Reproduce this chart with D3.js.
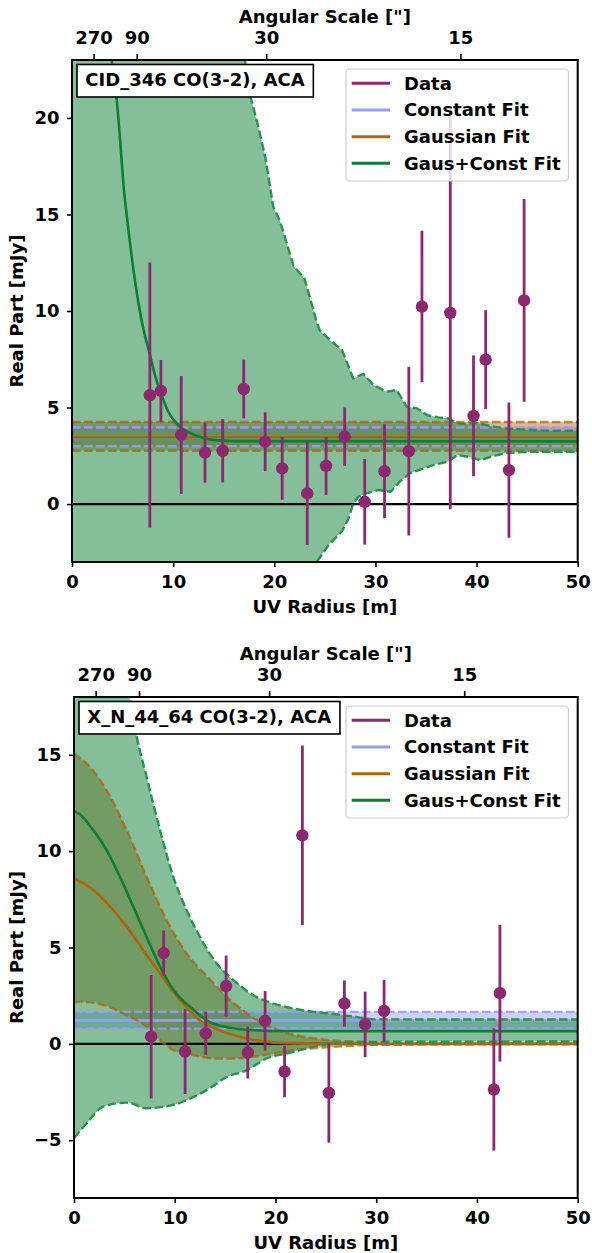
<!DOCTYPE html>
<html>
<head>
<meta charset="utf-8">
<script src="https://cdn.jsdelivr.net/npm/d3@7"></script>
<style>
  body { margin: 0; background: #fff; }
  svg text { font-family: "DejaVu Sans", sans-serif; font-weight: bold; }
</style>
</head>
<body>
<div id="chart"></div>
<script>
// ---------- shared axis values ----------
var xTicks = [0, 10, 20, 30, 40, 50];
var angularTicks = [270, 90, 30, 15];
var legendLabels = ["Data", "Constant Fit", "Gaussian Fit", "Gaus+Const Fit"];

// ---------- CID_346 (top panel) ----------
var cidRadius = [7.70, 8.79, 10.8, 13.15, 14.9, 16.98, 19.1, 20.78, 23.26, 25.12, 26.96, 28.94, 30.9, 33.3, 34.6, 37.4, 39.7, 40.9, 43.2, 44.7];
var cidReal   = [5.64, 5.86, 3.58, 2.66, 2.76, 5.96, 3.23, 1.85, 0.55, 1.98, 3.49, 0.12, 1.70, 2.74, 10.23, 9.9, 4.57, 7.48, 1.76, 10.55];
var cidErr    = [6.87, 1.6, 3.05, 1.55, 1.64, 1.52, 1.52, 1.63, 2.67, 1.5, 1.51, 2.22, 2.43, 4.37, 3.92, 10.17, 3.13, 2.56, 3.5, 5.25];

var cidConst = [3.0, 3.49, 3.97];   // lo, fit, hi
var cidGaus  = [2.76, 3.49, 4.25];  // lo, fit, hi (flat over the range)

var cidGcMidR = [2.5, 3.2, 3.92, 4.42, 4.75, 5.07, 5.57, 6.06, 6.56, 7.05, 7.55, 8.21, 8.87, 9.53, 10.36, 11.18, 12.17, 13.16, 14.5, 16, 50];
var cidGcMid  = [36, 28, 23.0, 20.97, 18.9, 16.66, 14.25, 12.18, 10.45, 9.08, 8.05, 6.67, 5.63, 4.77, 4.17, 3.82, 3.57, 3.40, 3.3, 3.26, 3.25];
var cidGcHiR  = [0, 10, 15, 17.1, 17.6, 18.3, 19.1, 19.9, 20.6, 21.9, 23.0, 24.2, 24.5, 25.5, 26.7, 27.8, 28.8, 29.8, 31.1, 32.1, 33.1, 34.1, 35.1, 36.2, 37.2, 38.1, 39.0, 40.0, 41.4, 42.7, 44.3, 47.0, 50];
var cidGcHi   = [70, 40, 28, 23.0, 21.2, 19.8, 18.0, 15.4, 14.6, 12.35, 11.66, 9.42, 9.0, 8.5, 7.98, 6.51, 6.74, 6.17, 5.82, 5.91, 5.04, 4.96, 4.61, 4.49, 4.44, 4.18, 4.15, 4.21, 4.04, 3.92, 3.87, 3.8, 3.8];
var cidGcLoR  = [0, 10, 20, 24.2, 25.4, 26.7, 27.3, 27.8, 28.3, 29.1, 30.3, 31.5, 32.4, 33.4, 34.8, 35.7, 37.1, 38.1, 39.2, 40.4, 41.4, 43.0, 45.6, 50];
var cidGcLo   = [-40, -25, -8, -3.0, -2.1, -1.4, -0.8, 0.0, 0.38, 0.55, 0.73, 0.64, 1.16, 1.59, 1.85, 2.02, 2.19, 2.54, 2.45, 2.28, 2.45, 2.66, 2.71, 2.71];

// ---------- X_N_44_64 (bottom panel) ----------
var xnRadius = [7.66, 8.9, 11.03, 13.08, 15.1, 17.25, 18.97, 20.9, 22.67, 25.3, 26.84, 28.9, 30.78, 41.68, 42.28];
var xnReal   = [0.37, 4.71, -0.40, 0.55, 3.0, -0.45, 1.19, -1.44, 10.82, -2.55, 2.09, 1.01, 1.71, -2.37, 2.63];
var xnErr    = [3.2, 1.17, 2.2, 1.12, 1.58, 1.35, 1.55, 1.33, 4.66, 2.58, 1.2, 1.7, 1.6, 3.17, 3.55];

var xnConst = [0.79, 1.22, 1.66];   // lo, fit, hi

var xnGaMidR = [0, 1.92, 3.6, 5.23, 6.88, 8.54, 9.9, 12.5, 14.5, 16.5, 18.6, 21.2, 25, 50];
var xnGaMid  = [8.58, 7.98, 7.11, 6.07, 4.86, 3.65, 2.68, 1.21, 0.69, 0.35, 0.14, 0.03, 0, 0];
var xnGaHiR  = [0, 1.59, 3.24, 5.23, 7.21, 9.2, 11.18, 13.3, 15.9, 18.2, 20.8, 24.5, 28.3, 32, 50];
var xnGaHi   = [15.07, 14.37, 13.16, 11.09, 8.67, 6.42, 4.69, 3.45, 2.1, 1.22, 0.62, 0.24, 0.1, 0.03, 0.02];
var xnGaLoR  = [0, 0.6, 2.9, 5.2, 7.2, 8.5, 9.9, 11.9, 13.9, 15.8, 17.8, 19.8, 22.4, 25.4, 30, 50];
var xnGaLo   = [2.14, 2.19, 2.02, 1.5, 0.9, 0.21, -0.33, -0.59, -0.76, -0.76, -0.67, -0.5, -0.3, -0.17, -0.05, -0.02];

var xnGcMidR = [0, 0.6, 1.92, 3.24, 4.56, 5.89, 7.21, 8.54, 9.9, 11.9, 13.2, 15.2, 17.5, 19.9, 25, 50];
var xnGcMid  = [12.08, 11.9, 11.09, 10.05, 8.67, 7.11, 5.55, 4.0, 2.78, 1.74, 1.21, 0.86, 0.72, 0.67, 0.66, 0.66];
var xnGcHiR  = [0, 3, 5.5, 6.2, 7.21, 8.54, 9.86, 11.18, 12.5, 14.16, 15.82, 17.8, 19.8, 21.8, 23.8, 25.5, 28, 30, 50];
var xnGcHi   = [26, 22, 18, 16.0, 13.85, 11.09, 8.67, 6.94, 5.55, 4.17, 3.31, 2.52, 2.09, 1.83, 1.66, 1.57, 1.4, 1.27, 1.26];
var xnGcLoR  = [0, 1.26, 2.9, 5.2, 5.7, 7.05, 9.86, 11.2, 13.2, 15.2, 17.2, 19.1, 21.1, 23.1, 25.1, 28, 50];
var xnGcLo   = [-4.9, -4.12, -3.26, -3.05, -3.08, -3.34, -3.17, -2.91, -2.39, -1.71, -1.36, -0.76, -0.5, -0.24, -0.02, 0.1, 0.12];

// colours
var dataColor = "#8c286e";
var constColor = "#9a9aff";
var gausColor = "#b06408";
var gcColor = "#0a7f35";

var svg = d3.select("#chart").append("svg")
    .attr("width", 592)
    .attr("height", 1253);

function pairs(rs, vs) {
    return rs.map(function(r, i) { return [r, vs[i]]; });
}
function flat(v) {
    return [[0, v], [50, v]];
}

function drawPanel(p) {
    var x = d3.scaleLinear().domain([0, 50]).range([p.left, p.right]);
    var y = d3.scaleLinear().domain(p.yDomain).range([p.bottom, p.top]);

    var clipId = "clip-" + p.id;
    svg.append("clipPath").attr("id", clipId)
        .append("rect")
        .attr("x", p.left).attr("y", p.top)
        .attr("width", p.right - p.left).attr("height", p.bottom - p.top);

    var plot = svg.append("g").attr("clip-path", "url(#" + clipId + ")");

    var line = d3.line()
        .x(function(d) { return x(d[0]); })
        .y(function(d) { return y(d[1]); })
        .curve(d3.curveMonotoneX);
    var lineLin = d3.line()
        .x(function(d) { return x(d[0]); })
        .y(function(d) { return y(d[1]); });

    function band(lo, hi, gen) {
        return gen(hi) + gen(lo.slice().reverse()).replace(/^M/, "L") + "Z";
    }

    // fills first (constant, gaussian, gaus+const), like matplotlib's zorder
    p.fits.forEach(function(f) {
        plot.append("path")
            .attr("d", band(f.lo, f.hi, f.jagged ? lineLin : line))
            .attr("fill", f.color)
            .attr("fill-opacity", f.fillOpacity)
            .attr("stroke", "none");
    });

    // zero line
    plot.append("line")
        .attr("x1", p.left).attr("x2", p.right)
        .attr("y1", y(0)).attr("y2", y(0))
        .attr("stroke", "#000").attr("stroke-width", 2.2);

    // fit lines and dashed envelopes, fit by fit
    p.fits.forEach(function(f) {
        plot.append("path")
            .attr("d", line(f.mid))
            .attr("fill", "none")
            .attr("stroke", f.color)
            .attr("stroke-width", 2.6);
        [f.lo, f.hi].forEach(function(edge) {
            plot.append("path")
                .attr("d", (f.jagged ? lineLin : line)(edge))
                .attr("fill", "none")
                .attr("stroke", f.dashColor)
                .attr("stroke-opacity", f.dashOpacity)
                .attr("stroke-width", 2.4)
                .attr("stroke-dasharray", "8.5,3.5");
        });
    });

    // data with error bars
    var pts = p.radius.map(function(r, i) { return { r: r, v: p.real[i], e: p.err[i] }; });
    plot.selectAll(".eb").data(pts).enter().append("line")
        .attr("x1", function(d) { return x(d.r); })
        .attr("x2", function(d) { return x(d.r); })
        .attr("y1", function(d) { return y(d.v - d.e); })
        .attr("y2", function(d) { return y(d.v + d.e); })
        .attr("stroke", dataColor)
        .attr("stroke-width", 2.8);
    plot.selectAll(".pt").data(pts).enter().append("circle")
        .attr("cx", function(d) { return x(d.r); })
        .attr("cy", function(d) { return y(d.v); })
        .attr("r", 6.2)
        .attr("fill", dataColor);

    // axes
    var bottomAxis = svg.append("g")
        .attr("transform", "translate(0," + p.bottom + ")")
        .call(d3.axisBottom(x).tickValues(xTicks).tickSize(5).tickPadding(8.5));
    var leftAxis = svg.append("g")
        .attr("transform", "translate(" + p.left + ",0)")
        .call(d3.axisLeft(y).tickValues(p.yTicks).tickSize(5).tickPadding(7.5));
    var topAxis = svg.append("g")
        .attr("transform", "translate(0," + p.top + ")")
        .call(d3.axisTop(x)
            .tickValues(angularTicks.map(function(a) { return p.angK / a; }))
            .tickFormat(function(d, i) { return angularTicks[i]; })
            .tickSize(6).tickPadding(10.5));

    [bottomAxis, leftAxis, topAxis].forEach(function(ax) {
        ax.select(".domain").remove();
        ax.selectAll(".tick line").attr("stroke", "#000").attr("stroke-width", 1.6);
        ax.selectAll(".tick text")
            .attr("fill", "#000")
            .style("font-size", "18px")
            .style("font-family", "'DejaVu Sans', sans-serif")
            .style("font-weight", "bold");
    });

    // frame
    svg.append("rect")
        .attr("x", p.left).attr("y", p.top)
        .attr("width", p.right - p.left).attr("height", p.bottom - p.top)
        .attr("fill", "none").attr("stroke", "#000").attr("stroke-width", 2);

    // axis titles
    var cx = (p.left + p.right) / 2;
    svg.append("text")
        .attr("x", cx).attr("y", p.top - 37)
        .attr("text-anchor", "middle")
        .style("font-size", "18px")
        .text("Angular Scale [\"]");
    svg.append("text")
        .attr("x", cx).attr("y", p.bottom + 50.5)
        .attr("text-anchor", "middle")
        .style("font-size", "18px")
        .text("UV Radius [m]");
    svg.append("text")
        .attr("transform", "translate(23," + ((p.top + p.bottom) / 2) + ") rotate(-90)")
        .attr("text-anchor", "middle")
        .style("font-size", "18px")
        .text("Real Part [mJy]");

    // title box
    var tg = svg.append("g");
    var tRect = tg.append("rect");
    var tText = tg.append("text")
        .attr("x", p.left + 13.3)
        .attr("y", p.top + 26)
        .style("font-size", "18px")
        .text(p.title);
    var tw = tText.node().getComputedTextLength();
    tRect.attr("x", p.left + 5).attr("y", p.top + 4.5)
        .attr("width", tw + 17).attr("height", 32.5)
        .attr("fill", "#fff").attr("stroke", "#000").attr("stroke-width", 1.6);

    // legend
    var lg = svg.append("g");
    lg.append("rect")
        .attr("x", 346).attr("y", p.top + 9)
        .attr("width", 222.5).attr("height", 112)
        .attr("rx", 4)
        .attr("fill", "#fff").attr("fill-opacity", 0.8)
        .attr("stroke", "#cccccc").attr("stroke-width", 1.2);
    var legendColors = [dataColor, constColor, gausColor, gcColor];
    legendLabels.forEach(function(lab, i) {
        var yy = p.top + 23.3 + i * 26.67;
        lg.append("line")
            .attr("x1", 351.7).attr("x2", 390)
            .attr("y1", yy).attr("y2", yy)
            .attr("stroke", legendColors[i]).attr("stroke-width", 3);
        lg.append("text")
            .attr("x", 404).attr("y", yy)
            .attr("dy", "0.36em")
            .style("font-size", "18px")
            .text(lab);
    });
}

drawPanel({
    id: "cid",
    left: 72, right: 577.7, top: 60, bottom: 562,
    yDomain: [-3, 23],
    yTicks: [0, 5, 10, 15, 20],
    angK: 576,
    title: "CID_346 CO(3-2), ACA",
    radius: cidRadius, real: cidReal, err: cidErr,
    fits: [
        { lo: flat(cidConst[0]), mid: flat(cidConst[1]), hi: flat(cidConst[2]),
          color: constColor, fillOpacity: 0.45, dashColor: constColor, dashOpacity: 0.9 },
        { lo: flat(cidGaus[0]), mid: flat(cidGaus[1]), hi: flat(cidGaus[2]),
          color: gausColor, fillOpacity: 0.45, dashColor: gausColor, dashOpacity: 0.75 },
        { lo: pairs(cidGcLoR, cidGcLo), mid: pairs(cidGcMidR, cidGcMid), hi: pairs(cidGcHiR, cidGcHi),
          color: gcColor, fillOpacity: 0.5, dashColor: "#2a9155", dashOpacity: 1, jagged: true }
    ]
});

drawPanel({
    id: "xn",
    left: 74, right: 577.7, top: 697, bottom: 1198,
    yDomain: [-8, 18],
    yTicks: [-5, 0, 5, 10, 15],
    angK: 581,
    title: "X_N_44_64 CO(3-2), ACA",
    radius: xnRadius, real: xnReal, err: xnErr,
    fits: [
        { lo: flat(xnConst[0]), mid: flat(xnConst[1]), hi: flat(xnConst[2]),
          color: constColor, fillOpacity: 0.45, dashColor: constColor, dashOpacity: 0.9 },
        { lo: pairs(xnGaLoR, xnGaLo), mid: pairs(xnGaMidR, xnGaMid), hi: pairs(xnGaHiR, xnGaHi),
          color: gausColor, fillOpacity: 0.45, dashColor: gausColor, dashOpacity: 0.75 },
        { lo: pairs(xnGcLoR, xnGcLo), mid: pairs(xnGcMidR, xnGcMid), hi: pairs(xnGcHiR, xnGcHi),
          color: gcColor, fillOpacity: 0.5, dashColor: "#2a9155", dashOpacity: 1 }
    ]
});
</script>
</body>
</html>
